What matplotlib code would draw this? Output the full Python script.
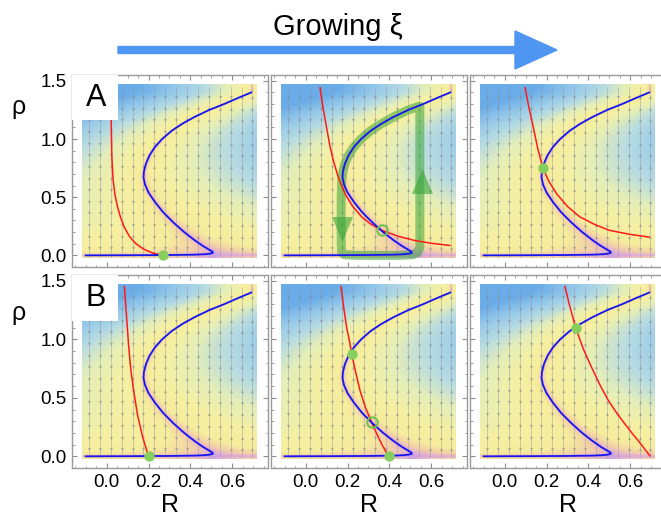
import matplotlib
matplotlib.use("Agg")
import matplotlib.pyplot as plt
import numpy as np
from matplotlib.colors import LinearSegmentedColormap
from matplotlib.patches import FancyArrow, Rectangle
from matplotlib.ticker import FormatStrFormatter, MultipleLocator, NullFormatter

plt.rcParams["font.family"] = ["Liberation Sans", "DejaVu Sans"]

# S-shaped rho-nullcline (blue), same in all six panels
blue_R = [-0.10, 0.10, 0.30, 0.42, 0.47, 0.495, 0.507, 0.505, 0.49, 0.46, 0.42, 0.37,
          0.32, 0.27, 0.23, 0.20, 0.183, 0.176, 0.178, 0.188, 0.205, 0.23, 0.265,
          0.31, 0.36, 0.42, 0.49, 0.56, 0.63, 0.69]
blue_rho = [0.000, 0.001, 0.003, 0.006, 0.010, 0.015, 0.022, 0.032, 0.048, 0.08, 0.13, 0.20,
            0.28, 0.37, 0.46, 0.54, 0.61, 0.67, 0.72, 0.79, 0.86, 0.93, 1.00,
            1.07, 1.13, 1.19, 1.25, 1.30, 1.355, 1.40]

# R-nullclines (red), one per panel: A1 A2 A3 / B1 B2 B3
red_R = [
    [0.021, 0.022, 0.025, 0.031, 0.040, 0.052, 0.066, 0.085, 0.11, 0.14, 0.175, 0.22, 0.27],
    [0.069, 0.083, 0.10, 0.115, 0.133, 0.158, 0.188, 0.225, 0.268, 0.31, 0.363, 0.44, 0.52, 0.60, 0.688],
    [0.098, 0.115, 0.137, 0.158, 0.182, 0.21, 0.248, 0.30, 0.36, 0.43, 0.50, 0.60, 0.69],
    [0.085, 0.095, 0.105, 0.115, 0.13, 0.148, 0.17, 0.183, 0.20],
    [0.169, 0.182, 0.196, 0.21, 0.22, 0.24, 0.26, 0.285, 0.315, 0.34, 0.363, 0.38, 0.398],
    [0.288, 0.31, 0.339, 0.375, 0.415, 0.455, 0.494, 0.535, 0.574, 0.607, 0.637, 0.665, 0.693],
]
red_rho = [
    [1.47, 1.15, 0.85, 0.65, 0.52, 0.42, 0.33, 0.24, 0.16, 0.10, 0.055, 0.02, 0.0],
    [1.44, 1.27, 1.10, 0.95, 0.81, 0.66, 0.53, 0.42, 0.33, 0.27, 0.215, 0.165, 0.128, 0.104, 0.085],
    [1.44, 1.28, 1.10, 0.92, 0.755, 0.64, 0.53, 0.42, 0.33, 0.265, 0.215, 0.18, 0.157],
    [1.45, 1.20, 0.95, 0.75, 0.55, 0.35, 0.18, 0.10, 0.0],
    [1.45, 1.27, 1.10, 0.98, 0.874, 0.71, 0.56, 0.42, 0.29, 0.19, 0.105, 0.05, 0.0],
    [1.45, 1.29, 1.10, 0.92, 0.76, 0.61, 0.48, 0.37, 0.276, 0.20, 0.134, 0.07, 0.005],
]

# fixed points: stable (filled) and unstable (open)
stable_R = [[0.27], [], [0.182], [0.20], [0.22, 0.398], [0.339]]
stable_rho = [[0.0], [], [0.755], [0.0], [0.874, 0.0], [1.097]]
unstable_R = [[], [0.363], [], [], [0.315], []]
unstable_rho = [[], [0.214], [], [], [0.29], []]

# hysteresis loop drawn in panel A2
loop_R = [0.54, 0.49, 0.42, 0.36, 0.31, 0.265, 0.23, 0.205, 0.188, 0.178, 0.172, 0.170,
          0.170, 0.172, 0.185, 0.25, 0.45, 0.51, 0.535, 0.545, 0.545, 0.545]
loop_rho = [1.28, 1.25, 1.19, 1.13, 1.07, 1.00, 0.93, 0.86, 0.79, 0.72, 0.64, 0.50,
            0.10, 0.03, 0.005, 0.0, 0.0, 0.005, 0.025, 0.07, 0.60, 1.28]
loop_arrow_R = [0.172, 0.553]
loop_arrow_rho = [0.228, 0.635]
loop_arrow_dir = ["down", "up"]

# streamline columns
stream_R = [-0.085, -0.033, 0.02, 0.072, 0.124, 0.176, 0.228, 0.28, 0.332, 0.384,
            0.436, 0.488, 0.54, 0.592, 0.644, 0.696]

panel_labels = ["A", "", "", "B", "", ""]

# S branch written as R = F(rho), used for background shading and flow direction
s_rho = np.array(blue_rho[6:])
s_R = np.array(blue_R[6:])


def flow(R, rho):
    return rho * (R - np.interp(rho, s_rho, s_R))


cmap = LinearSegmentedColormap.from_list(
    "speed",
    [(0.00, "#c9a0e4"), (0.03, "#e6b2cc"), (0.07, "#f3cfa8"), (0.14, "#f6ec9c"),
     (0.30, "#f6f0a2"), (0.48, "#e4eeb8"), (0.64, "#b6dbe2"), (0.82, "#92c7ea"),
     (1.00, "#6aace8")],
)

W, H = 661, 521
fig = plt.figure(figsize=(W / 100, H / 100), dpi=100)

col_left = [72, 271, 470]
row_top = [75, 275]
row_bot = [267, 468]
pw = 196

ext = [-0.118, 0.713, -0.022, 1.47]
gR, gr = np.meshgrid(np.linspace(ext[0], ext[1], 300), np.linspace(ext[2], ext[3], 300))
speed = np.clip(np.sqrt(np.abs(flow(gR, gr)) / 0.8), 0, 1)

arr_rho = np.arange(0.06, 1.45, 0.1)

for k in range(6):
    r, c = divmod(k, 3)
    ax = fig.add_axes([col_left[c] / W, 1 - row_bot[r] / H, pw / W,
                       (row_bot[r] - row_top[r]) / H])
    ax.imshow(speed, extent=ext, origin="lower", cmap=cmap, vmin=0, vmax=1,
              aspect="auto", interpolation="bilinear", zorder=0)

    for x in stream_R:
        ax.plot([x, x], [-0.01, 1.45], color="#9096a0", lw=0.6, alpha=0.5, zorder=1)
        v = flow(x, arr_rho)
        up = arr_rho[v > 0.004]
        dn = arr_rho[v < -0.004]
        ax.plot([x] * len(up), up, "^", ms=2.3, color="#80868f", alpha=0.55, mew=0, zorder=1)
        ax.plot([x] * len(dn), dn, "v", ms=2.3, color="#80868f", alpha=0.55, mew=0, zorder=1)

    if k == 1:
        ax.plot(loop_R, loop_rho, color="#3aa63a", lw=6.5, alpha=0.55,
                solid_capstyle="round", solid_joinstyle="round", zorder=2)
        for xa, ya, d in zip(loop_arrow_R, loop_arrow_rho, loop_arrow_dir):
            if d == "down":
                tri = [(-0.42, 0.5), (0.42, 0.5), (0, -0.5)]
            else:
                tri = [(-0.42, -0.5), (0.42, -0.5), (0, 0.5)]
            ax.plot(xa, ya, marker=tri, ms=18, color="#3aa63a", alpha=0.6, mew=0, zorder=2)

    ax.plot(red_R[k], red_rho[k], color="#ff1a1a", lw=1.1, zorder=3)
    ax.plot(blue_R, blue_rho, color="#1515f0", lw=1.3, zorder=4)
    ax.plot(stable_R[k], stable_rho[k], "o", ms=7.5, color="#86cf5e", mew=0, zorder=5)
    ax.plot(unstable_R[k], unstable_rho[k], "o", ms=7.5, mfc="none", mec="#6cc24a",
            mew=1.4, zorder=5)

    ax.set_xlim(-0.165, 0.77)
    ax.set_ylim(-0.1, 1.55)

    if panel_labels[k]:
        ax.add_patch(Rectangle((-0.2, 1.16), 0.255, 0.5, facecolor="white",
                               edgecolor="none", zorder=6))
        ax.text(-0.052, 1.355, panel_labels[k], fontsize=22, ha="center", va="center", zorder=7)

    ax.xaxis.set_major_locator(MultipleLocator(0.2))
    ax.xaxis.set_minor_locator(MultipleLocator(0.05))
    ax.yaxis.set_major_locator(MultipleLocator(0.5))
    ax.yaxis.set_minor_locator(MultipleLocator(0.1))
    ax.tick_params(which="both", direction="in", top=True, right=True, color="#8c8c8c",
                   labelsize=13.5, pad=4)
    ax.tick_params(which="major", length=3.5, width=0.8)
    ax.tick_params(which="minor", length=1.8, width=0.6)
    for sp in ax.spines.values():
        sp.set_color("#9a9a9a")
        sp.set_linewidth(1.0)

    if r == 1:
        ax.set_xticks([0.0, 0.2, 0.4, 0.6])
        ax.xaxis.set_major_formatter(FormatStrFormatter("%.1f"))
        ax.set_xlabel("R", fontsize=18, labelpad=2)
    else:
        ax.xaxis.set_major_formatter(NullFormatter())
    if c == 0:
        ax.yaxis.set_major_formatter(FormatStrFormatter("%.1f"))
        ax.set_ylabel("ρ", fontsize=18, rotation=0, va="center")
        ax.yaxis.set_label_coords((18 - 72) / pw, 0.833 if r == 0 else 0.803)
    else:
        ax.yaxis.set_major_formatter(NullFormatter())

fig.text(338 / W, 1 - 27 / H, "Growing ξ", fontsize=21, ha="center", va="center")
fig.add_artist(FancyArrow(1.18, (H - 50) / 100, 4.39, 0, width=0.07, head_width=0.38,
                          head_length=0.42, length_includes_head=True, color="#4f95f2",
                          transform=fig.dpi_scale_trans))

fig.savefig("out.png", dpi=100)
